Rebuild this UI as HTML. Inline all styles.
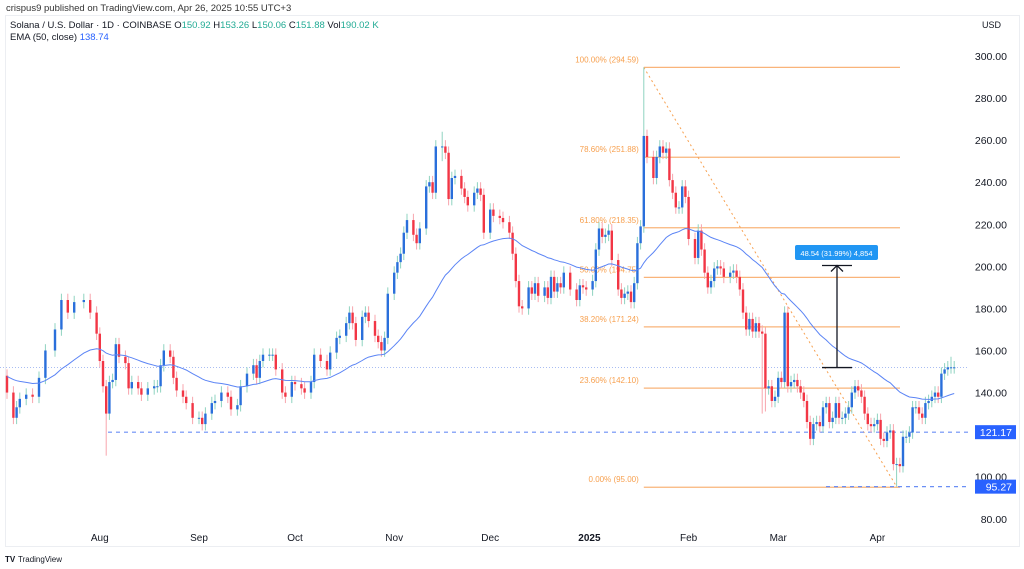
<!DOCTYPE html>
<html><head><meta charset="utf-8"><style>
body{margin:0;width:1024px;height:569px;background:#fff;overflow:hidden;font-family:"Liberation Sans",sans-serif;}
svg{position:absolute;left:0;top:0}
</style></head><body>
<svg id="c" width="1024" height="569"></svg>
<script>
const days=[0,2,3,4,6,8,10,12,15,17,19,21,24,26,28,29,30,31,32,33,34,35,37,38,39,41,42,44,46,47,48,49,51,52,53,55,56,58,60,61,62,64,65,67,69,70,72,73,75,77,78,79,80,82,83,84,86,87,89,90,92,93,95,96,98,100,101,103,104,106,107,108,109,111,112,113,115,116,117,118,119,121,122,123,124,125,127,128,129,131,132,133,134,136,137,138,139,140,142,143,144,146,147,148,149,151,152,154,155,157,158,159,160,161,163,164,165,166,168,169,170,171,172,173,174,176,178,179,180,181,183,184,185,186,187,188,189,191,192,193,194,195,196,197,198,199,200,202,203,204,205,206,207,208,209,210,211,212,213,215,216,217,218,219,220,221,222,223,224,226,227,228,229,230,231,232,233,234,235,236,237,238,239,240,241,242,243,244,245,246,247,248,249,250,251,252,253,254,255,256,257,258,259,260,261,262,263,264,265,266,267,268,269,270,271,272,273,274,275,276,277,278,279,280,281,282,283,284,285,286,287,288,289,290,291,292,293,294,295,296];
const closes=[140,128,133,137,139,138,147,160,170,184,178,183,184,178,168,155,143,130,145,146,163,157,154,142,145,142,139,142,143,143,153,160,157,147,141,138,135,128,128,125,130,135,136,140,138,132,134,143,149,153,147,155,158,158,158,151,140,138,145,144,142,140,145,158,155,151,159,166,167,173,178,173,165,176,178,174,167,164,160,166,187,197,202,206,216,222,215,211,218,238,240,235,257,257,254,232,242,243,237,233,229,235,237,234,216,227,224,223,221,216,206,193,181,180,190,187,192,186,190,185,195,188,192,190,197,189,184,191,190,189,193,208,218,214,215,217,203,189,185,187,188,183,192,211,219,262,252,242,252,257,254,256,241,235,228,228,238,233,213,204,217,208,197,190,193,199,200,199,195,197,198,195,189,178,170,175,169,173,169,168,142,143,136,138,147,145,178,143,145,146,143,140,136,126,118,125,126,124,133,135,126,128,135,128,128,130,133,140,143,141,138,130,125,124,125,127,118,117,121,122,106,106,105,119,119,121,133,133,130,128,135,136,138,140,138,149,151,152,152,152];
const spikeDays=[31,199,278,244,237,236,135,136,295];
const spikeHigh=[146,294.6,107,180,170,169,265,264,157];
const spikeLow=[110,218,95.3,142,131,130,250,250,150];
const fibLevels=[294.59,251.88,218.35,194.75,171.24,142.10,95.00];
const fibLabels=["100.00% (294.59)","78.60% (251.88)","61.80% (218.35)","50.00% (194.75)","38.20% (171.24)","23.60% (142.10)","0.00% (95.00)"];
const yTicks=[300,280,260,240,220,200,180,160,140,100,80];
const months=["Aug","Sep","Oct","Nov","Dec","2025","Feb","Mar","Apr"];
const monthDays=[29,60,90,121,151,182,213,241,272];

const NS="http://www.w3.org/2000/svg";
const svg=document.getElementById('c');
const X=d=>7+d*3.2;
const Y=p=>56+(300-p)*2.1035;
function mk(t,a,txt){const e=document.createElementNS(NS,t);for(const k in a)e.setAttribute(k,a[k]);if(txt!==undefined)e.textContent=txt;svg.appendChild(e);return e;}

let e;
e=mk('text',{x:6,y:11,'font-size':9.5,fill:'#333'},'crispus9 published on TradingView.com, Apr 26, 2025 10:55 UTC+3');

e=mk('rect',{x:5.5,y:15.5,width:1014,height:531,fill:'none',stroke:'#eceef2'});

e=mk('text',{x:10,y:28,'font-size':9.5,fill:'#131722'});
e.innerHTML='Solana / U.S. Dollar · 1D · COINBASE  O<tspan fill="#22ab94">150.92</tspan>  H<tspan fill="#22ab94">153.26</tspan>  L<tspan fill="#22ab94">150.06</tspan>  C<tspan fill="#22ab94">151.88</tspan>  Vol<tspan fill="#22ab94">190.02 K</tspan>';

e=mk('text',{x:10,y:40,'font-size':9.5,fill:'#131722'});
e.innerHTML='EMA (50, close)  <tspan fill="#2962ff">138.74</tspan>';

e=mk('text',{x:982,y:28,'font-size':9,fill:'#131722'},'USD');


yTicks.forEach(t=>{e=mk('text',{x:1007,y:Y(t)+4,'font-size':10.5,fill:'#131722','text-anchor':'end'},t.toFixed(2));
});
months.forEach((m,i)=>{e=mk('text',{x:X(monthDays[i]),y:541,'font-size':10,fill:'#131722','text-anchor':'middle','font-weight':m==='2025'?'bold':'normal'},m);
});
e=mk('text',{x:18,y:562,'font-size':8,fill:'#131722'},'TradingView');

e=mk('text',{x:5,y:562,'font-size':8,fill:'#131722','font-weight':'bold'},'TV');

const fibX0=X(199),fibX1=900;
fibLevels.forEach((l,i)=>{e=mk('line',{x1:fibX0,x2:fibX1,y1:Y(l),y2:Y(l),stroke:'#f9b47a','stroke-width':1.2});

e=mk('text',{x:fibX0-5,y:Y(l)-5,'font-size':8,fill:'#f7a04f','text-anchor':'end'},fibLabels[i]);
});
e=mk('line',{x1:fibX0,y1:Y(294.59),x2:897,y2:Y(95),stroke:'#f7a04f','stroke-dasharray':'2,3'});


e=mk('line',{x1:0,x2:968,y1:Y(151.88),y2:Y(151.88),stroke:'#9db4f0','stroke-dasharray':'1,2','stroke-width':0.8});

e=mk('line',{x1:108,x2:968,y1:Y(121.17),y2:Y(121.17),stroke:'#6b8ff5','stroke-dasharray':'4,4','stroke-width':1.2});

e=mk('line',{x1:826,x2:968,y1:Y(95.27),y2:Y(95.27),stroke:'#6b8ff5','stroke-dasharray':'4,4','stroke-width':1.2});


let prev=148;
days.forEach((d,i)=>{
 const o=prev,c=closes[i];prev=c;
 let h=Math.max(o,c)+3,l=Math.min(o,c)-3;
 const k=spikeDays.indexOf(d);if(k>=0){h=Math.max(h,spikeHigh[k]);l=Math.min(l,spikeLow[k]);}
 const up=c>=o,x=X(d);
 e=mk('line',{x1:x,x2:x,y1:Y(h),y2:Y(l),stroke:up?'#8fd3c0':'#f8a5ad','stroke-width':1});
 
 e=mk('rect',{x:x-1.2,y:Y(Math.max(o,c)),width:2.4,height:Math.max(1,Math.abs(Y(o)-Y(c))),fill:up?'#2a6fdb':'#f23645'});
 
});
let ema=148,pts=[];
days.forEach((d,i)=>{const gap=i?d-days[i-1]:1;for(let g=0;g<gap;g++)ema=ema+(2/51)*(closes[i]-ema);pts.push(X(d).toFixed(1)+','+Y(ema).toFixed(1));});
e=mk('polyline',{points:pts.join(' '),fill:'none',stroke:'#5b84f5','stroke-width':1});


const mx=837;
e=mk('line',{x1:mx,x2:mx,y1:Y(151.88),y2:Y(200.4),stroke:'#131722','stroke-width':1.3});

mk('line',{x1:822,x2:852,y1:Y(151.88),y2:Y(151.88),stroke:'#131722','stroke-width':1.3});
mk('line',{x1:822,x2:852,y1:Y(200.4),y2:Y(200.4),stroke:'#131722','stroke-width':1.3});
mk('polyline',{points:`${mx-6},${Y(200.4)+6} ${mx},${Y(200.4)} ${mx+6},${Y(200.4)+6}`,fill:'none',stroke:'#131722','stroke-width':1.3});
e=mk('rect',{x:795,y:245,width:83,height:15,rx:2,fill:'#2196f3'});

mk('text',{x:836.5,y:256,'font-size':7.5,fill:'#fff','text-anchor':'middle'},'48.54 (31.99%) 4,854');

[[121.17,'121.17'],[95.27,'95.27']].forEach(([p,t])=>{
 e=mk('rect',{x:975,y:Y(p)-7,width:41,height:14,fill:'#2962ff'});
 
 mk('text',{x:1012,y:Y(p)+4,'font-size':10.5,fill:'#fff','text-anchor':'end'},t);
});
</script></body></html>
